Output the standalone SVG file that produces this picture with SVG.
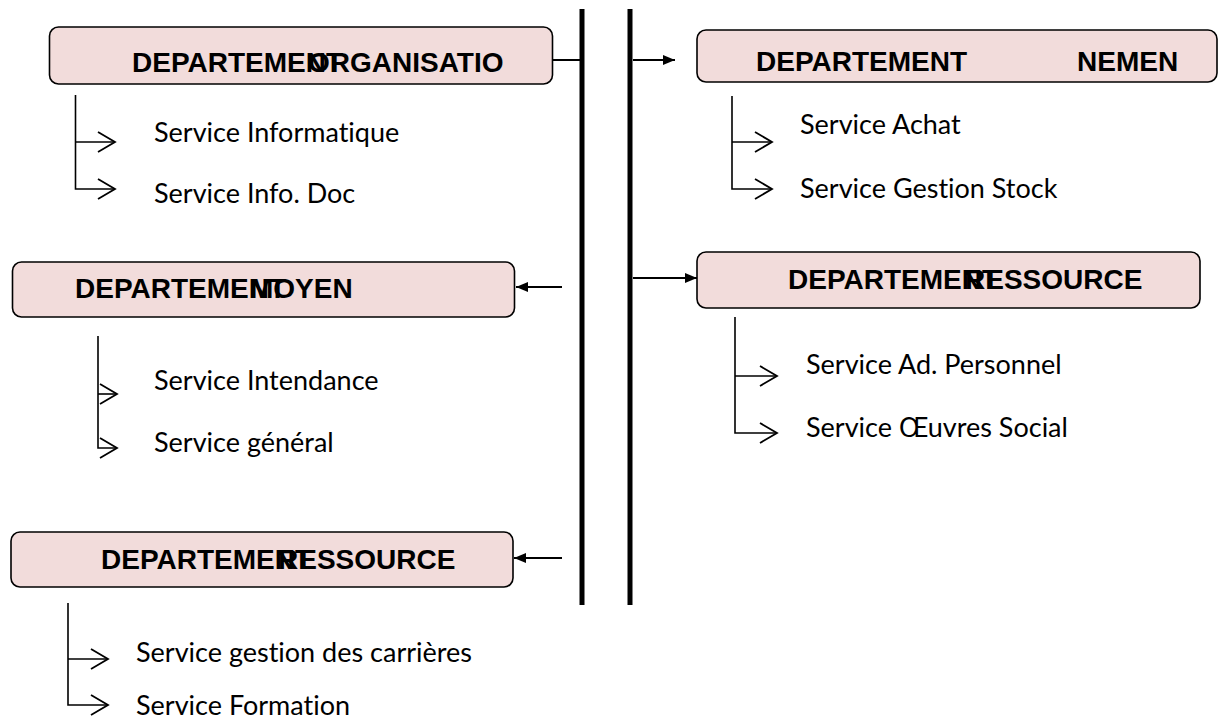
<svg xmlns="http://www.w3.org/2000/svg" width="1219" height="724" viewBox="0 0 1219 724">
  <style>
    .dept rect { fill: #f2dcdb; stroke: #000; stroke-width: 1.6; }
    .title { font-family: "Liberation Sans", Arial, sans-serif; font-weight: bold; font-size: 28px; fill: #000; }
    .svc { font-family: Lato, "Open Sans", sans-serif; font-size: 27px; fill: #000; font-variant-ligatures: none; }
    .bus { stroke: #000; stroke-width: 5; fill: none; }
    .link { stroke: #000; stroke-width: 2; fill: none; }
    .tree { stroke: #000; stroke-width: 1.6; fill: none; }
  </style>
  <defs>
    <marker id="solid" viewBox="0 0 12 10" refX="12" refY="5" markerWidth="12" markerHeight="10" markerUnits="userSpaceOnUse" orient="auto">
      <path d="M0,0 L12,5 L0,10 Z" fill="#000"/>
    </marker>
    <marker id="open" viewBox="0 0 20 22" refX="18" refY="11" markerWidth="20" markerHeight="22" markerUnits="userSpaceOnUse" orient="auto">
      <path d="M1,1 L18,11 L1,21" fill="none" stroke="#000" stroke-width="1.8"/>
    </marker>
  </defs>

  <!-- connectors -->
  <g id="connectors">
    <line class="bus" x1="582" y1="9" x2="582" y2="605"/>
    <line class="bus" x1="630" y1="9" x2="630" y2="605"/>
    <line class="link" x1="553" y1="60" x2="580" y2="60"/>
    <line class="link" x1="633" y1="60" x2="675" y2="60" marker-end="url(#solid)"/>
    <line class="link" x1="633" y1="278" x2="697" y2="278" marker-end="url(#solid)"/>
    <line class="link" x1="562" y1="287" x2="516" y2="287" marker-end="url(#solid)"/>
    <line class="link" x1="562" y1="558" x2="514" y2="558" marker-end="url(#solid)"/>

    <!-- service trees -->
    <path class="tree" d="M75.5,95 V189 H115" marker-end="url(#open)"/>
    <line class="tree" x1="75.5" y1="142" x2="115" y2="142" marker-end="url(#open)"/>

    <path class="tree" d="M732,96 V189 H772" marker-end="url(#open)"/>
    <line class="tree" x1="732" y1="142" x2="772" y2="142" marker-end="url(#open)"/>

    <path class="tree" d="M98,336 V448 H117" marker-end="url(#open)"/>
    <line class="tree" x1="98" y1="394" x2="117" y2="394" marker-end="url(#open)"/>

    <path class="tree" d="M735,317 V433 H777" marker-end="url(#open)"/>
    <line class="tree" x1="735" y1="376" x2="777" y2="376" marker-end="url(#open)"/>

    <path class="tree" d="M68,603 V705 H108" marker-end="url(#open)"/>
    <line class="tree" x1="68" y1="659" x2="108" y2="659" marker-end="url(#open)"/>
  </g>

  <!-- departments -->
  <g id="dept-organisation" class="dept">
    <rect x="49.5" y="27" width="503" height="57" rx="9"/>
    <text class="title" x="132" y="72">DEPARTEMENT</text>
    <text class="title" x="308" y="72">ORGANISATIO</text>
  </g>
  <g id="dept-nemen" class="dept">
    <rect x="697" y="30" width="520" height="52" rx="9"/>
    <text class="title" x="756" y="71">DEPARTEMENT</text>
    <text class="title" x="1077" y="71">NEMEN</text>
  </g>
  <g id="dept-moyen" class="dept">
    <rect x="12.5" y="262" width="502" height="55" rx="9"/>
    <text class="title" x="75" y="298">DEPARTEMENT</text>
    <text class="title" x="250" y="298">MOYEN</text>
  </g>
  <g id="dept-ressource-right" class="dept">
    <rect x="697" y="252" width="503" height="56" rx="9"/>
    <text class="title" x="788" y="289">DEPARTEMENT</text>
    <text class="title" x="965" y="289">RESSOURCE</text>
  </g>
  <g id="dept-ressource-left" class="dept">
    <rect x="11" y="532" width="502" height="55" rx="9"/>
    <text class="title" x="101" y="569">DEPARTEMENT</text>
    <text class="title" x="278" y="569">RESSOURCE</text>
  </g>

  <!-- services -->
  <g id="svc-informatique"><text class="svc" x="154" y="142">Service Informatique</text></g>
  <g id="svc-infodoc"><text class="svc" x="154" y="203">Service Info. Doc</text></g>
  <g id="svc-achat"><text class="svc" x="800" y="134">Service Achat</text></g>
  <g id="svc-stock"><text class="svc" x="800" y="198">Service Gestion Stock</text></g>
  <g id="svc-intendance"><text class="svc" x="154" y="390">Service Intendance</text></g>
  <g id="svc-general"><text class="svc" x="154" y="452">Service général</text></g>
  <g id="svc-personnel"><text class="svc" x="806" y="374">Service Ad. Personnel</text></g>
  <g id="svc-oeuvres"><text class="svc" x="806" y="437">Service Œuvres Social</text></g>
  <g id="svc-carrieres"><text class="svc" x="136" y="662">Service gestion des carrières</text></g>
  <g id="svc-formation"><text class="svc" x="136" y="715">Service Formation</text></g>
</svg>
